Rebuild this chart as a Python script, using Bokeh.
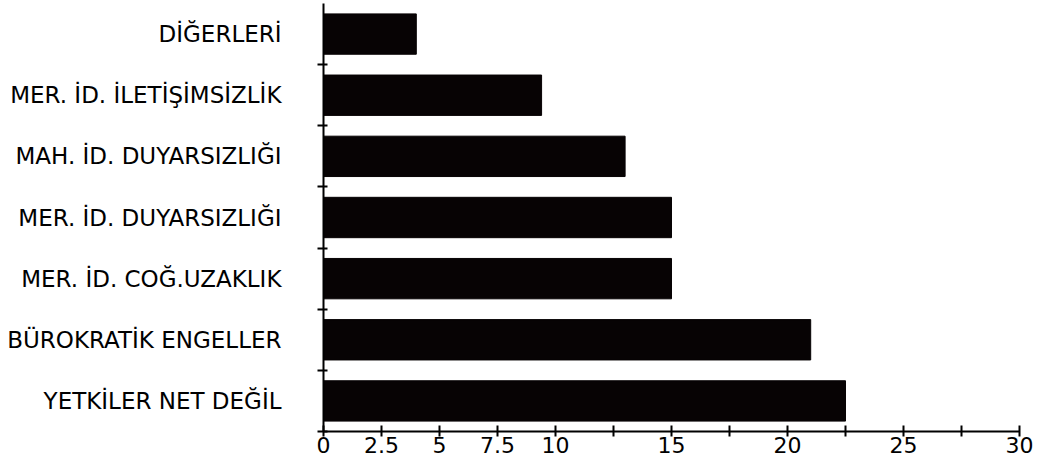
from bokeh.plotting import figure
from bokeh.models import FixedTicker, Range1d, ColumnDataSource
from bokeh.embed import file_html
from bokeh.resources import INLINE

# Data (bottom to top)
categories = [
    "YETKİLER NET DEĞİL",
    "BÜROKRATİK ENGELLER",
    "MER. İD. COĞ.UZAKLIK",
    "MER. İD. DUYARSIZLIĞI",
    "MAH. İD. DUYARSIZLIĞI",
    "MER. İD. İLETİŞİMSİZLİK",
    "DİĞERLERİ",
]
values = [22.5, 21, 15, 15, 13, 9.4, 4]
x_ticks = [0, 2.5, 5, 7.5, 10, 12.5, 15, 17.5, 20, 22.5, 25, 27.5, 30]
x_tick_labels = ["0", "2.5", "5", "7.5", "10", "", "15", "", "20", "", "25", "", "30"]

pos = [i + 0.5 for i in range(len(categories))]
src = ColumnDataSource(dict(y=pos, right=values, cat=categories))

p = figure(width=1040, height=458, output_backend="svg", toolbar_location=None,
           x_range=Range1d(0, 30), y_range=Range1d(0, len(categories)),
           min_border_left=323, min_border_right=21, min_border_top=3,
           min_border_bottom=27)
p.outline_line_color = None
p.xgrid.visible = False
p.ygrid.visible = False
p.background_fill_color = "white"
p.border_fill_color = "white"

p.hbar(y="y", left=0, right="right", height=0.66, source=src,
       fill_color="#070304", line_color="#070304")

font = "DejaVu Sans"
# y axis
ya = p.yaxis[0]
ya.ticker = FixedTicker(ticks=pos, minor_ticks=list(range(0, len(categories))))
ya.major_label_overrides = {pp: c for pp, c in zip(pos, categories)}
ya.major_tick_in = 0
ya.major_tick_out = 0
ya.minor_tick_in = 4
ya.minor_tick_out = 6
ya.minor_tick_line_color = "black"
ya.minor_tick_line_width = 2
ya.axis_line_color = "black"
ya.axis_line_width = 2
ya.major_label_standoff = 36
ya.major_label_text_font = font
ya.major_label_text_font_size = "23px"
ya.major_label_text_color = "black"
ya.major_label_text_font_style = "normal"
ya.axis_label = None
ya.axis_label_standoff = 0

# x axis
xa = p.xaxis[0]
xa.ticker = FixedTicker(ticks=x_ticks)
xa.major_label_overrides = {t: l for t, l in zip(x_ticks, x_tick_labels)}
xa.major_tick_in = 6
xa.major_tick_out = 5
xa.major_tick_line_color = "black"
xa.major_tick_line_width = 2
xa.minor_tick_line_color = None
xa.axis_line_color = "black"
xa.axis_line_width = 2
xa.major_label_standoff = 0
xa.major_label_text_font = font
xa.major_label_text_font_size = "22px"
xa.major_label_text_color = "black"
xa.axis_label = None
xa.axis_label_standoff = 0

open("out.html", "w").write(file_html(p, INLINE))
